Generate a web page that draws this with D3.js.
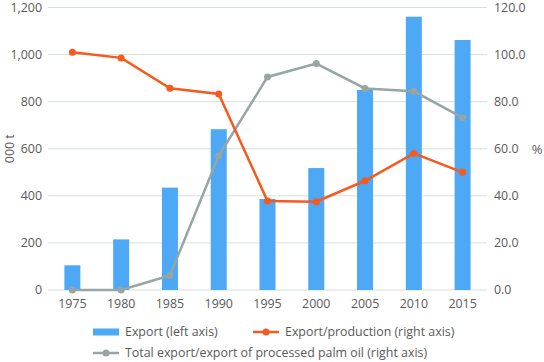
<!DOCTYPE html>
<html lang="en">
<head>
<meta charset="utf-8"/>
<script src="https://d3js.org/d3.v7.min.js"></script>
<style>
  body { margin: 0; background: #fff; }
  text { font-family: "Open Sans", sans-serif; fill: #595959; }
</style>
</head>
<body>
<div id="chart"></div>
<script>
// data
var years = ["1975", "1980", "1985", "1990", "1995", "2000", "2005", "2010", "2015"];
var exportT = [105, 215, 435, 683, 387, 518, 850, 1161, 1062];
var exportShare = [101, 98.6, 85.7, 83.3, 37.8, 37.5, 46.4, 58.0, 50.0];
var processedShare = [0, 0, 6.2, 57.0, 90.5, 96.2, 85.6, 84.4, 73.2];
var leftTicks = [0, 200, 400, 600, 800, 1000, 1200];
var rightTicks = [0, 20, 40, 60, 80, 100, 120];

var W = 544, H = 362;
var margin = {top: 7.5, right: 57, bottom: 72, left: 48};
var width = W - margin.left - margin.right;
var height = H - margin.top - margin.bottom;
var fs = "12.4px";

var svg = d3.select("#chart").append("svg")
    .attr("width", W).attr("height", H);
var g = svg.append("g")
    .attr("transform", "translate(" + margin.left + "," + margin.top + ")");

var x = d3.scaleBand().domain(years).range([0, width]);
var yL = d3.scaleLinear().domain([0, 1200]).range([height, 0]);
var yR = d3.scaleLinear().domain([0, 120]).range([height, 0]);

// grid lines
g.selectAll(".grid").data(leftTicks).enter().append("line")
    .attr("x1", 0).attr("x2", width)
    .attr("y1", function(d) { return yL(d); })
    .attr("y2", function(d) { return yL(d); })
    .style("stroke", "#d6e0dd").style("stroke-width", 1);

// left axis
var axL = g.append("g")
    .call(d3.axisLeft(yL).tickValues(leftTicks).tickFormat(d3.format(",")).tickSize(0).tickPadding(6));
axL.select(".domain").remove();
axL.selectAll("text").style("font-size", fs).style("fill", "#595959");

// right axis
var axR = g.append("g")
    .attr("transform", "translate(" + width + ",0)")
    .call(d3.axisRight(yR).tickValues(rightTicks).tickFormat(d3.format(".1f")).tickSize(0).tickPadding(7));
axR.select(".domain").remove();
axR.selectAll("text").style("font-size", fs).style("fill", "#595959");

// bottom axis
var axB = g.append("g")
    .attr("transform", "translate(0," + height + ")")
    .call(d3.axisBottom(x).tickSize(0).tickPadding(9));
axB.select(".domain").remove();
axB.selectAll("text").style("font-size", fs).style("fill", "#595959");

// axis titles
svg.append("text")
    .attr("transform", "translate(14," + (margin.top + yL(600)) + ") rotate(-90)")
    .attr("text-anchor", "middle")
    .style("font-size", fs)
    .text("000 t");
svg.append("text")
    .attr("x", 537).attr("y", margin.top + yR(60) + 5)
    .attr("text-anchor", "middle")
    .style("font-size", "13px")
    .text("%");

// bars
var bw = 16;
g.selectAll(".bar").data(exportT).enter().append("rect")
    .attr("x", function(d, i) { return x(years[i]) + x.bandwidth() / 2 - bw / 2; })
    .attr("y", function(d) { return yL(d); })
    .attr("width", bw)
    .attr("height", function(d) { return height - yL(d); })
    .style("fill", "#4da8f6");

function drawLine(vals, color) {
    var line = d3.line()
        .x(function(d, i) { return x(years[i]) + x.bandwidth() / 2; })
        .y(function(d) { return yR(d); });
    g.append("path").datum(vals)
        .attr("d", line)
        .style("fill", "none").style("stroke", color).style("stroke-width", 2.5);
    g.selectAll(null).data(vals).enter().append("circle")
        .attr("cx", function(d, i) { return x(years[i]) + x.bandwidth() / 2; })
        .attr("cy", function(d) { return yR(d); })
        .attr("r", 3.5)
        .style("fill", color);
}
drawLine(processedShare, "#97a5a4");
drawLine(exportShare, "#f55a1e");

// legend
var lg = svg.append("g");
lg.append("rect").attr("x", 93).attr("y", 328.5).attr("width", 26).attr("height", 7).style("fill", "#4da8f6");
lg.append("text").attr("x", 125).attr("y", 336).style("font-size", fs).text("Export (left axis)");

lg.append("line").attr("x1", 253).attr("x2", 279).attr("y1", 332).attr("y2", 332)
    .style("stroke", "#f55a1e").style("stroke-width", 2.5);
lg.append("circle").attr("cx", 266).attr("cy", 332).attr("r", 3.5).style("fill", "#f55a1e");
lg.append("text").attr("x", 285).attr("y", 336).style("font-size", fs).text("Export/production (right axis)");

lg.append("line").attr("x1", 93).attr("x2", 119).attr("y1", 353).attr("y2", 353)
    .style("stroke", "#97a5a4").style("stroke-width", 2.5);
lg.append("circle").attr("cx", 106).attr("cy", 353).attr("r", 3.5).style("fill", "#97a5a4");
lg.append("text").attr("x", 125).attr("y", 357).style("font-size", fs).text("Total export/export of processed palm oil (right axis)");
</script>
</body>
</html>
